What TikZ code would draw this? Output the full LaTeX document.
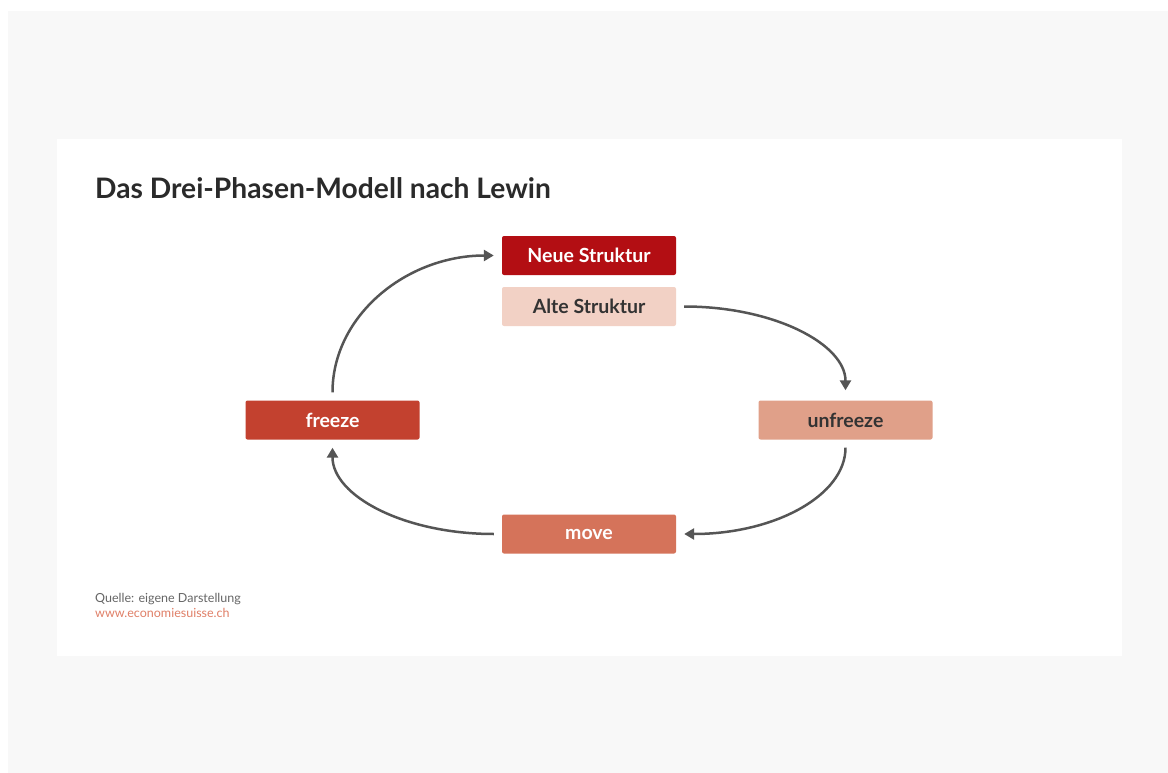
\documentclass[tikz,border=0pt]{standalone}
\usepackage{fontspec}
\setmainfont{Lato}
\usetikzlibrary{arrows.meta,calc}
\definecolor{bggray}{HTML}{F8F8F8}
\definecolor{neuecol}{HTML}{B30E13}
\definecolor{altecol}{HTML}{F2D1C5}
\definecolor{freezecol}{HTML}{C3412F}
\definecolor{unfreezecol}{HTML}{E0A089}
\definecolor{movecol}{HTML}{D5735A}
\definecolor{arrowcol}{HTML}{555555}
\definecolor{titlecol}{HTML}{2A2A2A}
\definecolor{darktext}{HTML}{333333}
\definecolor{srccol}{HTML}{666666}
\definecolor{wwwcol}{HTML}{E07F67}
\tikzset{
  phasebox/.style={rectangle, rounded corners=2pt, minimum width=174pt, minimum height=39pt, inner sep=0pt, font=\fontsize{19.5}{21}\selectfont\bfseries},
  lightbox/.style={phasebox, text=white},
  darkbox/.style={phasebox, text=darktext},
  flow/.style={draw=arrowcol, line width=2.5pt, -{Triangle[length=10pt,width=11pt]}},
}
\begin{document}
\begin{tikzpicture}[x=1pt,y=-1pt]
\useasboundingbox (0,0) rectangle (1168,773);
\fill[bggray] (8,11) rectangle (1168,773);
\fill[white] (57,139) rectangle (1122,656);
\node[anchor=base west, text=titlecol, font=\fontsize{28.2}{30}\selectfont\bfseries, inner sep=0pt] (title) at (95,198) {Das Drei-Phasen-Modell nach Lewin};
\node[lightbox, fill=neuecol] (neue) at (589,255.5) {Neue Struktur};
\node[darkbox, fill=altecol] (alte) at (589,306.5) {Alte Struktur};
\node[lightbox, fill=freezecol] (freeze) at (332.5,420) {freeze};
\node[darkbox, fill=unfreezecol] (unfreeze) at (845.5,420) {unfreeze};
\node[lightbox, fill=movecol] (move) at (589,534) {move};
\draw[flow] ($(alte.east)+(8,0)$) .. controls ($(alte.east)+(98,0)$) and ($(unfreeze.north)+(0,-56)$) .. ($(unfreeze.north)+(0,-10)$);
\draw[flow] ($(unfreeze.south)+(0,8)$) .. controls ($(unfreeze.south)+(0,56)$) and ($(move.east)+(98,0)$) .. ($(move.east)+(8,0)$);
\draw[flow] ($(move.west)+(-8,0)$) .. controls ($(move.west)+(-98,0)$) and ($(freeze.south)+(0,56)$) .. ($(freeze.south)+(0,8)$);
\draw[flow] ($(freeze.north)+(0,-8)$) .. controls ($(freeze.north)+(0,-85)$) and ($(neue.west)+(-95,0)$) .. ($(neue.west)+(-8,0)$);
\node[anchor=base west, text=srccol, font=\fontsize{12.5}{14}\selectfont, inner sep=0pt] (src) at (95,602) {Quelle: eigene Darstellung};
\node[anchor=base west, text=wwwcol, font=\fontsize{12.5}{14}\selectfont, inner sep=0pt] (www) at (95,617) {www.economiesuisse.ch};
\end{tikzpicture}
\end{document}
